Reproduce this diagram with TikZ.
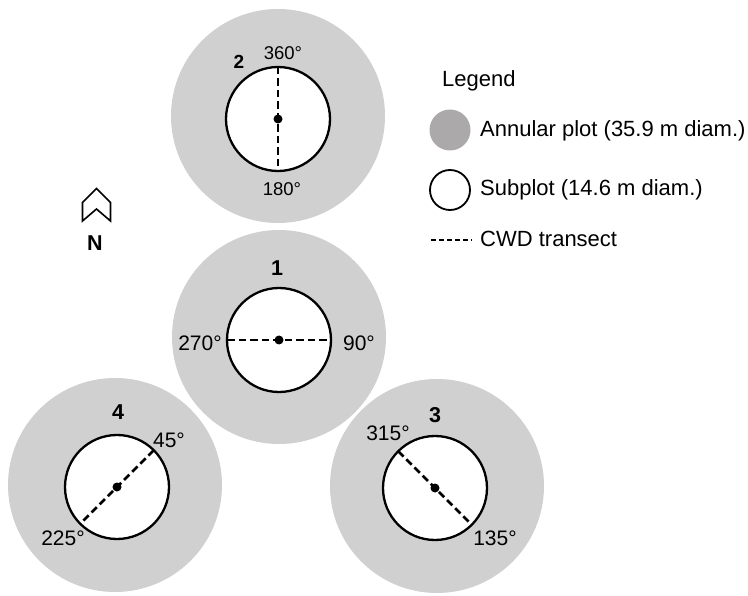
\documentclass[tikz,border=0pt]{standalone}
\usepackage{fontspec}
\setmainfont{Liberation Sans}
\definecolor{annulgray}{RGB}{209,208,209}
\definecolor{legendgray}{RGB}{171,169,169}
\begin{document}
\begin{tikzpicture}[x=1pt,y=-1pt,
  annular/.style={circle,fill=annulgray,draw=none,minimum size=214pt,inner sep=0pt,outer sep=0pt},
  subplot/.style={circle,fill=white,draw=black,line width=2.3pt,minimum size=104pt,inner sep=0pt,outer sep=0pt},
  centredot/.style={circle,fill=black,minimum size=9pt,inner sep=0pt},
  transect/.style={line width=2.8pt,dash pattern=on 7.5pt off 4pt},
  biglab/.style={font=\fontsize{21}{25}\selectfont,inner sep=0pt},
  smalllab/.style={font=\fontsize{18.5}{22}\selectfont,inner sep=0pt},
  bignum/.style={font=\fontsize{21.5}{25}\selectfont\bfseries,inner sep=0pt},
  smallnum/.style={font=\fontsize{19}{22}\selectfont\bfseries,inner sep=0pt},
  legtext/.style={font=\fontsize{22}{26}\selectfont,inner sep=0pt,anchor=base west}]
\useasboundingbox (0,0) rectangle (748,596);

% annular plots
\node[annular] (a2) at (278,116) {};
\node[annular] (a1) at (279,337) {};
\node[annular] (a4) at (115,485) {};
\node[annular] (a3) at (437,486) {};

% subplots
\node[subplot] (s2) at (278,119) {};
\node[subplot] (s1) at (279,340) {};
\node[subplot] (s4) at (117,487) {};
\node[subplot] (s3) at (435,488) {};

% transects
\draw[transect] (s2.north) -- (s2.south);
\draw[transect] (s1.west) -- (s1.east);
\draw[transect] (s4.45) -- (s4.225);
\draw[transect] (s3.135) -- (s3.-45);

% centre points
\node[centredot] (d2) at (s2.center) {};
\node[centredot] (d1) at (s1.center) {};
\node[centredot] (d4) at (s4.center) {};
\node[centredot] (d3) at (s3.center) {};

% plot 2 labels
\node[smallnum] (n2) at (239,62) {2};
\node[smalllab] (l360) at (283,53) {360°};
\node[smalllab] (l180) at (282,189) {180°};

% plot 1 labels
\node[bignum] (n1) at (277,268) {1};
\node[biglab] (l270) at (200,343) {270°};
\node[biglab] (l90) at (359,343) {90°};

% plot 4 labels
\node[bignum] (n4) at (118,412) {4};
\node[biglab] (l45) at (169,440) {45°};
\node[biglab] (l225) at (63,538) {225°};

% plot 3 labels
\node[bignum] (n3) at (435,415) {3};
\node[biglab] (l315) at (388,433) {315°};
\node[biglab] (l135) at (495,538) {135°};

% north arrow
\draw[line width=1.6pt,line join=miter] (82.5,202.5) -- (96.5,188.5) -- (110.5,202.5) -- (110.5,221) -- (96.5,209) -- (82.5,221) -- cycle;
\node[bignum] (north) at (95,243) {N};

% legend
\node[legtext] (legtitle) at (442,87) {Legend};
\node[circle,fill=legendgray,minimum size=41pt,inner sep=0pt] (legann) at (450,130) {};
\node[legtext] (legannt) at (480,137) {Annular plot (35.9 m diam.)};
\node[circle,draw=black,line width=1.8pt,minimum size=40pt,inner sep=0pt] (legsub) at (450,190) {};
\node[legtext] (legsubt) at (480,196) {Subplot (14.6 m diam.)};
\coordinate (cwdA) at (431,240);
\coordinate (cwdB) at (472,240);
\draw[line width=1.2pt,dash pattern=on 5pt off 3pt] (cwdA) -- (cwdB);
\node[legtext] (legcwd) at (480,247) {CWD transect};
\end{tikzpicture}
\end{document}
